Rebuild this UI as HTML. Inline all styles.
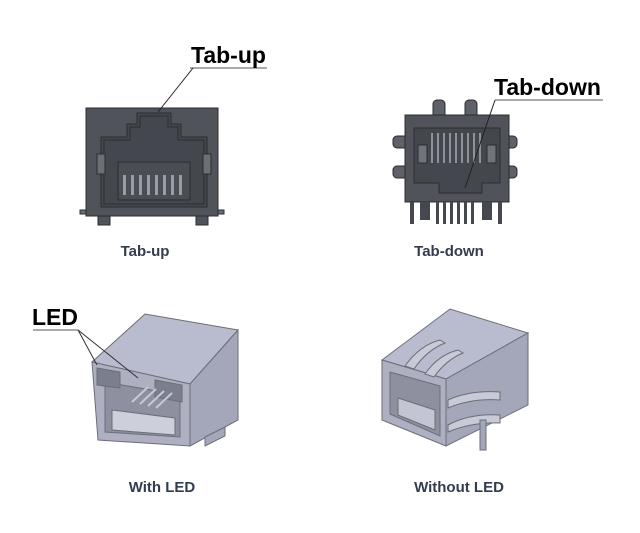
<!DOCTYPE html>
<html><head><style>
body{margin:0;background:#fff;width:640px;height:533px;overflow:hidden;font-family:"Liberation Sans",sans-serif}
.cap{position:absolute;font-weight:bold;font-size:15px;color:#333c4e;transform:translateX(-50%);white-space:nowrap}
.lab{position:absolute;font-weight:bold;font-size:23px;color:#000;white-space:nowrap}
</style></head><body>
<svg width="640" height="533" style="position:absolute;left:0;top:0">
<!-- Tab-up front view -->
<g stroke="#2a2c30" stroke-width="1">
<rect x="80" y="210" width="144" height="4" fill="#6a6d73"/>
<rect x="86" y="108" width="132" height="108" fill="#50535a"/>
<rect x="98" y="216" width="12" height="9" fill="#50535a"/>
<rect x="196" y="216" width="12" height="9" fill="#50535a"/>
<path d="M101,137 H127 V124 H137 V113 H171 V124 H181 V137 H207 V207 H101 Z" fill="#44474d"/>
<path d="M104,140 H130 V127 H140 V116 H168 V127 H178 V140 H204 V204 H104 Z" fill="none"/>
<rect x="118" y="162" width="72" height="38" fill="#4a4d54"/>
<rect x="97" y="154" width="8" height="20" fill="#6c6f76"/>
<rect x="203" y="154" width="8" height="20" fill="#6c6f76"/>
</g>
<g fill="#9a9da3"><rect x="123" y="175" width="3" height="20"/><rect x="131" y="175" width="3" height="20"/><rect x="139" y="175" width="3" height="20"/><rect x="147" y="175" width="3" height="20"/><rect x="155" y="175" width="3" height="20"/><rect x="163" y="175" width="3" height="20"/><rect x="171" y="175" width="3" height="20"/><rect x="179" y="175" width="3" height="20"/></g>
<line x1="190" y1="68" x2="267" y2="68" stroke="#555" stroke-width="1"/>
<line x1="193" y1="68" x2="158" y2="112" stroke="#222" stroke-width="1"/>
<!-- Tab-down front view -->
<g stroke="#2a2c30" stroke-width="1" fill="#5e6168">
<rect x="433" y="100" width="12" height="20" rx="4"/>
<rect x="465" y="100" width="12" height="20" rx="4"/>
<rect x="393" y="136" width="16" height="12" rx="4"/>
<rect x="393" y="166" width="16" height="12" rx="4"/>
<rect x="501" y="136" width="16" height="12" rx="4"/>
<rect x="501" y="166" width="16" height="12" rx="4"/>
<rect x="405" y="115" width="104" height="87" fill="#50535a"/>
<path d="M414,128 H500 V183 H482 V193 H439 V183 H421 V183 H414 Z" fill="#44474d"/>
<rect x="418" y="145" width="9" height="18" fill="#70737a"/>
<rect x="487" y="145" width="9" height="18" fill="#70737a"/>
</g>
<g fill="#8e9197"><rect x="431" y="133" width="2" height="30"/><rect x="437" y="133" width="2" height="30"/><rect x="443" y="133" width="2" height="30"/><rect x="449" y="133" width="2" height="30"/><rect x="455" y="133" width="2" height="30"/><rect x="461" y="133" width="2" height="30"/><rect x="467" y="133" width="2" height="30"/><rect x="473" y="133" width="2" height="30"/><rect x="479" y="133" width="2" height="30"/></g>
<g fill="#45484e"><rect x="410" y="202" width="4" height="22"/><rect x="420" y="202" width="10" height="18"/><rect x="436" y="202" width="3" height="22"/><rect x="443" y="202" width="3" height="22"/><rect x="450" y="202" width="3" height="22"/><rect x="457" y="202" width="3" height="22"/><rect x="464" y="202" width="3" height="22"/><rect x="471" y="202" width="3" height="22"/><rect x="482" y="202" width="10" height="18"/><rect x="498" y="202" width="4" height="22"/></g>
<line x1="495" y1="100" x2="603" y2="100" stroke="#555" stroke-width="1"/>
<line x1="495" y1="100" x2="465" y2="188" stroke="#222" stroke-width="1"/>
<!-- With LED iso -->
<g stroke="#6a6e78" stroke-width="1">
<path d="M92,362 L145,314 L238,330 L190,384 Z" fill="#b9bbcf"/>
<path d="M190,384 L238,330 L238,420 L190,446 Z" fill="#a4a6b9"/>
<path d="M92,362 L190,384 L190,446 L98,440 Z" fill="#aeb0c2"/>
<path d="M105,382 L180,395 L180,437 L105,432 Z" fill="#8e90a0"/>
<path d="M112,410 L175,418 L175,435 L112,430 Z" fill="#cdcfdb"/>
<path d="M97,368 L120,372 L120,388 L97,385 Z" fill="#7b7e8c"/>
<path d="M155,380 L182,385 L182,402 L155,397 Z" fill="#7b7e8c"/>
<path d="M205,437 L225,427 L225,436 L205,446 Z" fill="#a4a6b9"/>
</g>
<g stroke="#c7c9d4" stroke-width="2"><line x1="132" y1="402" x2="148" y2="387"/><line x1="140" y1="404" x2="156" y2="389"/><line x1="148" y1="406" x2="164" y2="391"/><line x1="156" y1="408" x2="172" y2="393"/></g>
<line x1="33" y1="330" x2="78" y2="330" stroke="#555" stroke-width="1"/>
<line x1="78" y1="330" x2="97" y2="365" stroke="#333" stroke-width="1"/>
<line x1="78" y1="330" x2="138" y2="378" stroke="#333" stroke-width="1"/>
<!-- Without LED iso -->
<g stroke="#6a6e78" stroke-width="1">
<path d="M382,360 L450,309 L528,333 L446,379 Z" fill="#b9bbcf"/>
<path d="M446,379 L528,333 L528,405 L446,446 Z" fill="#a4a6b9"/>
<path d="M382,360 L446,379 L446,446 L382,420 Z" fill="#aeb0c2"/>
<path d="M390,372 L440,386 L440,436 L390,414 Z" fill="#8e90a0"/>
<path d="M398,398 L435,410 L435,430 L398,415 Z" fill="#c3c5d3"/>
<path d="M405,366 Q420,345 440,340 L445,343 Q427,350 414,369 Z" fill="#c8cad7"/>
<path d="M425,374 Q438,355 458,350 L463,353 Q446,360 434,377 Z" fill="#c8cad7"/>
<path d="M448,400 Q470,390 500,392 L500,400 Q472,398 448,408 Z" fill="#c8cad7"/>
<path d="M448,425 Q470,413 500,415 L500,423 Q472,422 448,432 Z" fill="#c8cad7"/>
<rect x="480" y="420" width="6" height="30" fill="#a4a6b9"/>
</g>
</svg>
<div class="lab" style="left:191px;top:42px">Tab-up</div>
<div class="lab" style="left:494px;top:74px">Tab-down</div>
<div class="lab" style="left:32px;top:304px">LED</div>
<div class="cap" style="left:145px;top:243px">Tab-up</div>
<div class="cap" style="left:449px;top:243px">Tab-down</div>
<div class="cap" style="left:162px;top:479px">With LED</div>
<div class="cap" style="left:459px;top:479px">Without LED</div>
</body></html>
